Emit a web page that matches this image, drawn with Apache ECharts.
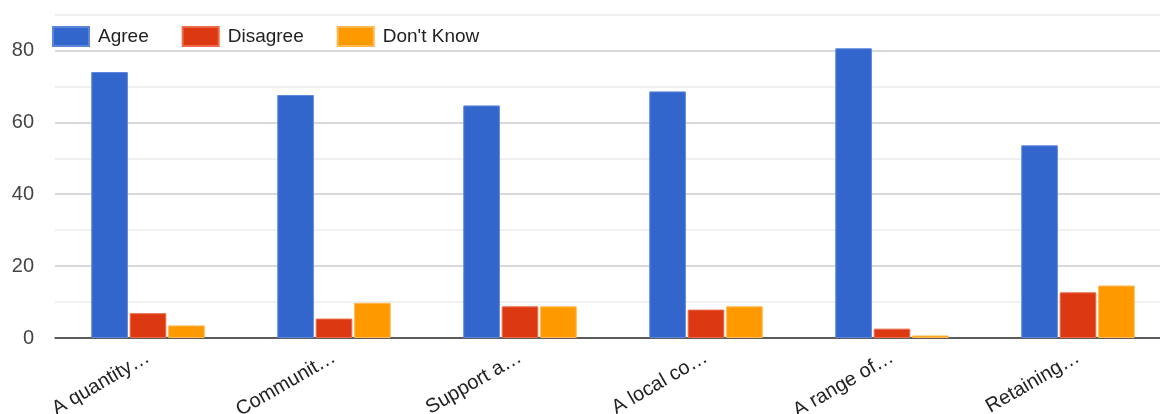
<!DOCTYPE html>
<html>
<head>
<meta charset="utf-8">
<style>
  html, body { margin: 0; padding: 0; background: #fff; }
  #chart { width: 1160px; height: 414px; }
</style>
<script src="https://cdn.jsdelivr.net/npm/echarts@6/dist/echarts.min.js"></script>
</head>
<body>
<div id="chart"></div>
<script>
// categories (labels are shown cut short, as in the picture)
const categories = ['A quantity…', 'Communit…', 'Support a…', 'A local co…', 'A range of…', 'Retaining…']
const agree = [74.0, 67.6, 64.7, 68.6, 80.6, 53.6]
const disagree = [6.9, 5.4, 8.8, 7.9, 2.6, 12.7]
const dontKnow = [3.5, 9.8, 8.8, 8.8, 0.7, 14.6]

const FONT = 'Liberation Sans, Arial, sans-serif'

var myChart = echarts.init(document.getElementById('chart'))
var option = {
  animation: false,
  textStyle: { fontFamily: FONT },
  legend: {
    left: 52,
    top: 26,
    padding: 0,
    itemWidth: 36,
    itemHeight: 19,
    itemGap: 33,
    icon: 'rect',
    textStyle: { fontSize: 19, color: '#222', padding: [0, 0, 0, 4], fontFamily: FONT },
    data: ['Agree', 'Disagree', "Don't Know"]
  },
  // plot area runs past the right edge of the picture
  grid: { left: 55, right: -11, top: 14.5, bottom: 76, containLabel: false, outerBoundsMode: 'none' },
  xAxis: {
    type: 'category',
    data: categories,
    axisTick: { show: false },
    axisLine: { show: true, lineStyle: { color: '#333', width: 1.5 } },
    axisLabel: {
      interval: 0,
      rotate: 30,
      margin: 18,
      fontSize: 20,
      color: '#222',
      fontFamily: FONT
    }
  },
  yAxis: {
    type: 'value',
    min: 0,
    max: 90,
    interval: 10,
    axisLine: { show: false },
    axisTick: { show: false },
    axisLabel: {
      margin: 21,
      fontSize: 20,
      color: '#444',
      fontFamily: FONT,
      formatter: v => (v % 20 === 0 ? v : '')
    },
    splitLine: { show: true, lineStyle: { color: ['#cccccc', '#ebebeb'], width: 1.5 } }
  },
  series: [
    { name: 'Agree', type: 'bar', data: agree, barGap: '5%', barCategoryGap: '39%',
      itemStyle: { color: '#3366cc', borderColor: '#5b86dc', borderWidth: 1 } },
    { name: 'Disagree', type: 'bar', data: disagree,
      itemStyle: { color: '#dc3912', borderColor: '#ea6a4a', borderWidth: 1 } },
    { name: "Don't Know", type: 'bar', data: dontKnow,
      itemStyle: { color: '#ff9900', borderColor: '#ffb84d', borderWidth: 1 } }
  ]
}
myChart.setOption(option)
</script>
</body>
</html>
